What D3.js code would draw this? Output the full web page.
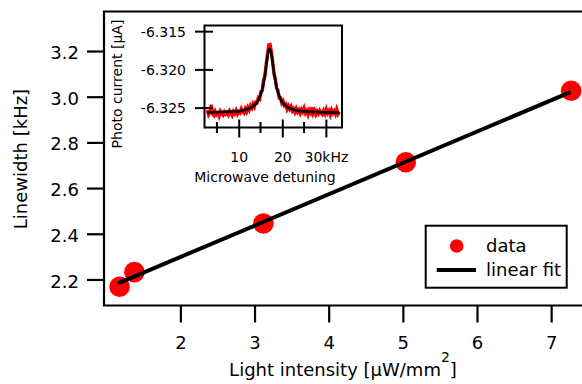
<!DOCTYPE html>
<html>
<head>
<meta charset="utf-8">
<script src="https://cdn.jsdelivr.net/npm/d3@7"></script>
<style>
body { margin: 0; background: #fff; }
svg { display: block; font-family: "DejaVu Sans", sans-serif; }
</style>
</head>
<body>
<div id="chart"></div>
<script>
// main plot: linewidth vs light intensity
var intensity = [1.18, 1.38, 3.12, 5.04, 7.27];
var linewidth = [2.168, 2.232, 2.445, 2.713, 3.026];
var fitIntensity = [1.16, 7.26];
var fitLinewidth = [2.183, 3.020];
var xTicks = [2, 3, 4, 5, 6, 7];
var yTicks = [2.2, 2.4, 2.6, 2.8, 3.0, 3.2];
var legendLabels = ["data", "linear fit"];

// inset: photo current vs microwave detuning (kHz)
var detuning = [2.8, 3.1, 3.4, 3.7, 4.0, 4.3, 4.6, 4.9, 5.2, 5.5, 5.8, 6.1, 6.4, 6.7, 7.0, 7.3, 7.6, 7.9, 8.2, 8.5,
	8.8, 9.1, 9.4, 9.7, 10.0, 10.3, 10.6, 10.9, 11.2, 11.5, 11.8, 12.1, 12.4, 12.7, 13.0, 13.3, 13.6, 13.9, 14.2, 14.5,
	14.8, 15.1, 15.4, 15.7, 16.0, 16.3, 16.6, 16.9, 17.2, 17.5, 17.8, 18.1, 18.4, 18.7, 19.0, 19.3, 19.6, 19.9, 20.2, 20.5,
	20.8, 21.1, 21.4, 21.7, 22.0, 22.3, 22.6, 22.9, 23.2, 23.5, 23.8, 24.1, 24.4, 24.7, 25.0, 25.3, 25.6, 25.9, 26.2, 26.5,
	26.8, 27.1, 27.4, 27.7, 28.0, 28.3, 28.6, 28.9, 29.2, 29.5, 29.8, 30.1, 30.4, 30.7, 31.0, 31.3, 31.6, 31.9, 32.2, 32.5,
	32.8, 33.1];
var photoCurrent = [-6.32533, -6.32593, -6.32563, -6.32462, -6.32582, -6.32601, -6.32551, -6.32591, -6.32570, -6.32610,
	-6.32549, -6.32578, -6.32598, -6.32557, -6.32586, -6.32566, -6.32595, -6.32544, -6.32572, -6.32601,
	-6.32550, -6.32578, -6.32537, -6.32585, -6.32553, -6.32570, -6.32518, -6.32555, -6.32571, -6.32517,
	-6.32552, -6.32497, -6.32530, -6.32473, -6.32503, -6.32452, -6.32488, -6.32431, -6.32439, -6.32372,
	-6.32387, -6.32291, -6.32280, -6.32141, -6.32090, -6.31931, -6.31798, -6.31679, -6.31675, -6.31773,
	-6.31899, -6.32062, -6.32120, -6.32246, -6.32272, -6.32373, -6.32371, -6.32441, -6.32414, -6.32473,
	-6.32458, -6.32520, -6.32480, -6.32518, -6.32485, -6.32541, -6.32516, -6.32560, -6.32514, -6.32557,
	-6.32530, -6.32572, -6.32524, -6.32556, -6.32508, -6.32570, -6.32541, -6.32592, -6.32533, -6.32564,
	-6.32495, -6.32576, -6.32537, -6.32588, -6.32548, -6.32579, -6.32539, -6.32570, -6.32590, -6.32541,
	-6.32581, -6.32522, -6.32572, -6.32542, -6.32593, -6.32533, -6.32573, -6.32544, -6.32584, -6.32524,
	-6.32584, -6.32555];
var fitDetuning = [2.8, 5, 8, 10, 12, 13, 14, 14.5, 15, 15.5, 16, 16.3, 16.6, 16.9, 17.1, 17.3, 17.6, 17.9, 18.2,
	18.6, 19, 19.5, 20, 21, 22, 24, 27, 30, 33.1];
var fitCurrent = [-6.32563, -6.32560, -6.32553, -6.32547, -6.32519, -6.32493, -6.32444, -6.32402, -6.32337, -6.32236,
	-6.32080, -6.31961, -6.31838, -6.31749, -6.31730, -6.31749, -6.31838, -6.31961, -6.32080, -6.32210,
	-6.32302, -6.32379, -6.32429, -6.32486, -6.32515, -6.32546, -6.32556, -6.32562, -6.32565];
var insetXTicks = [10, 20, 30];
var insetXLabels = ["10", "20", "30kHz"];
var insetXMinor = [5, 15, 25];
var insetYTicks = [-6.325, -6.320, -6.315];

var width = 582,
	height = 384;

var svg = d3.select("#chart").append("svg")
	.attr("width", width)
	.attr("height", height);

var frame = { left: 104, top: 11.5, right: 586, bottom: 305.5 };
var x = d3.scaleLinear().domain([0.97, 7.47]).range([frame.left, frame.right]);
var y = d3.scaleLinear().domain([2.086, 3.373]).range([frame.bottom, frame.top]);

// frame (right side falls outside the picture)
svg.append("path")
	.attr("d", "M" + frame.right + "," + frame.top + "H" + frame.left + "V" + frame.bottom + "H" + frame.right)
	.attr("fill", "none")
	.attr("stroke", "#000")
	.attr("stroke-width", 2.2);

var xAxis = svg.append("g")
	.attr("transform", "translate(0," + frame.bottom + ")")
	.call(d3.axisBottom(x).tickValues(xTicks).tickSize(17).tickSizeOuter(0).tickPadding(14).tickFormat(d3.format("d")));
xAxis.select(".domain").remove();
xAxis.attr("font-size", 18).attr("font-family", "DejaVu Sans");
xAxis.selectAll("line").attr("stroke-width", 2.2);
xAxis.selectAll("text").attr("fill", "#000");

var yAxis = svg.append("g")
	.attr("transform", "translate(" + frame.left + ",0)")
	.call(d3.axisLeft(y).tickValues(yTicks).tickSize(17).tickSizeOuter(0).tickPadding(8).tickFormat(d3.format(".1f")));
yAxis.select(".domain").remove();
yAxis.attr("font-size", 18).attr("font-family", "DejaVu Sans");
yAxis.selectAll("line").attr("stroke-width", 2.2);
yAxis.selectAll("text").attr("fill", "#000").attr("dy", "0.42em");

svg.append("text")
	.attr("transform", "translate(27,159) rotate(-90)")
	.attr("text-anchor", "middle")
	.attr("font-size", 18)
	.text("Linewidth [kHz]");

var xLabel = svg.append("text")
	.attr("x", 343)
	.attr("y", 375.5)
	.attr("text-anchor", "middle")
	.attr("font-size", 18);
xLabel.append("tspan").text("Light intensity [\u00b5W/mm");
xLabel.append("tspan").attr("dy", -14).attr("font-size", 14).text("2");
xLabel.append("tspan").attr("dy", 14).text("]");

// data points, fit drawn on top
svg.selectAll(".pt")
	.data(intensity)
	.enter().append("circle")
	.attr("class", "pt")
	.attr("cx", function(d) { return x(d); })
	.attr("cy", function(d, i) { return y(linewidth[i]); })
	.attr("r", 10.3)
	.attr("fill", "#ff0000");

svg.append("path")
	.datum(d3.range(fitIntensity.length))
	.attr("d", d3.line()
		.x(function(i) { return x(fitIntensity[i]); })
		.y(function(i) { return y(fitLinewidth[i]); }))
	.attr("fill", "none")
	.attr("stroke", "#000")
	.attr("stroke-width", 4);

// inset
var inset = { left: 204.5, top: 25.5, right: 342, bottom: 127.5 };
var xi = d3.scaleLinear().domain([2.15, 33.7]).range([inset.left, inset.right]);
var yi = d3.scaleLinear().domain([-6.3276, -6.31426]).range([inset.bottom, inset.top]);

svg.append("rect")
	.attr("x", inset.left)
	.attr("y", inset.top)
	.attr("width", inset.right - inset.left)
	.attr("height", inset.bottom - inset.top)
	.attr("fill", "#fff");

svg.append("path")
	.datum(d3.range(detuning.length))
	.attr("d", d3.line()
		.x(function(i) { return xi(detuning[i]); })
		.y(function(i) { return yi(photoCurrent[i]); }))
	.attr("fill", "none")
	.attr("stroke", "#ff0000")
	.attr("stroke-width", 3.4);

svg.append("path")
	.datum(d3.range(fitDetuning.length))
	.attr("d", d3.line()
		.curve(d3.curveMonotoneX)
		.x(function(i) { return xi(fitDetuning[i]); })
		.y(function(i) { return yi(fitCurrent[i]); }))
	.attr("fill", "none")
	.attr("stroke", "#000")
	.attr("stroke-width", 2.6);

svg.append("rect")
	.attr("x", inset.left)
	.attr("y", inset.top)
	.attr("width", inset.right - inset.left)
	.attr("height", inset.bottom - inset.top)
	.attr("fill", "none")
	.attr("stroke", "#000")
	.attr("stroke-width", 2);

var xiAxis = svg.append("g")
	.attr("transform", "translate(0," + inset.bottom + ")")
	.call(d3.axisBottom(xi).tickValues(insetXTicks).tickSize(10).tickSizeOuter(0).tickPadding(14.5)
		.tickFormat(function(d, i) { return insetXLabels[i]; }));
xiAxis.select(".domain").remove();
xiAxis.attr("font-size", 14).attr("font-family", "DejaVu Sans");
xiAxis.selectAll("line").attr("y1", -8).attr("stroke-width", 2);
xiAxis.selectAll("text").attr("fill", "#000");

svg.selectAll(".minor")
	.data(insetXMinor)
	.enter().append("line")
	.attr("class", "minor")
	.attr("x1", function(d) { return xi(d); })
	.attr("x2", function(d) { return xi(d); })
	.attr("y1", inset.bottom - 5.5)
	.attr("y2", inset.bottom + 5.5)
	.attr("stroke", "#000")
	.attr("stroke-width", 2);

var yiAxis = svg.append("g")
	.attr("transform", "translate(" + inset.left + ",0)")
	.call(d3.axisLeft(yi).tickValues(insetYTicks).tickSize(9.5).tickSizeOuter(0).tickPadding(9)
		.tickFormat(function(d) { return d.toFixed(3); }));
yiAxis.select(".domain").remove();
yiAxis.attr("font-size", 14).attr("font-family", "DejaVu Sans");
yiAxis.selectAll("line").attr("x1", 8.5).attr("stroke-width", 2);
yiAxis.selectAll("text").attr("fill", "#000").attr("dy", "0.36em");

svg.append("text")
	.attr("x", 265)
	.attr("y", 182)
	.attr("text-anchor", "middle")
	.attr("font-size", 14)
	.text("Microwave detuning");

svg.append("text")
	.attr("transform", "translate(122,84) rotate(-90)")
	.attr("text-anchor", "middle")
	.attr("font-size", 14)
	.text("Photo current [\u00b5A]");

// legend
var legend = svg.append("g");
legend.append("rect")
	.attr("x", 425.7)
	.attr("y", 225.7)
	.attr("width", 141)
	.attr("height", 62)
	.attr("fill", "#fff")
	.attr("stroke", "#000")
	.attr("stroke-width", 2);
legend.append("circle")
	.attr("cx", 456.7)
	.attr("cy", 246)
	.attr("r", 6.8)
	.attr("fill", "#ff0000");
legend.append("line")
	.attr("x1", 436.7)
	.attr("x2", 476)
	.attr("y1", 270)
	.attr("y2", 270)
	.attr("stroke", "#000")
	.attr("stroke-width", 4);
legend.selectAll(".lab")
	.data(legendLabels)
	.enter().append("text")
	.attr("class", "lab")
	.attr("x", 486)
	.attr("y", function(d, i) { return i ? 275.5 : 252; })
	.attr("font-size", 18)
	.text(function(d) { return d; });
</script>
</body>
</html>
